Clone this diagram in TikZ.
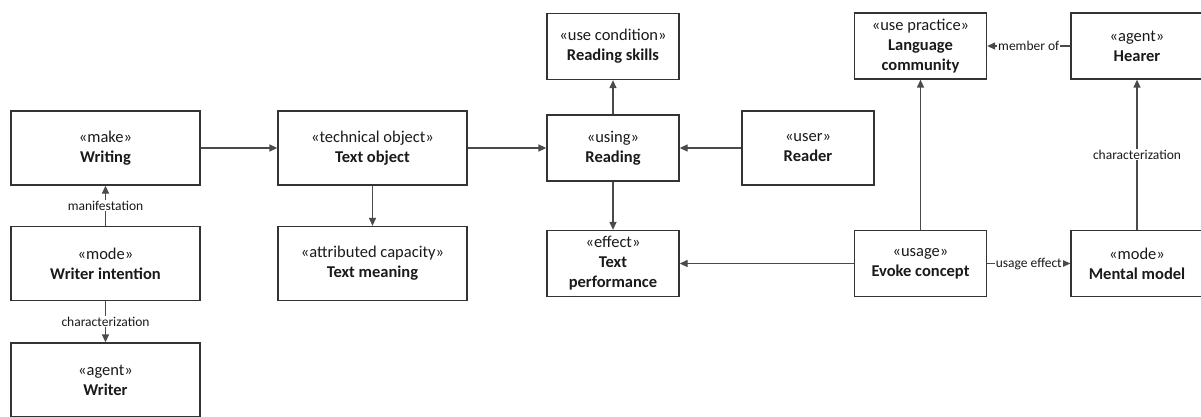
\documentclass[tikz,border=0pt]{standalone}
\usepackage{fontspec}
\setmainfont{Carlito}
\usetikzlibrary{arrows.meta}

\definecolor{linegray}{HTML}{4A4A4A}
\definecolor{boxgray}{HTML}{333333}
\definecolor{textgray}{HTML}{1A1A1A}

\begin{document}
\begin{tikzpicture}[x=1pt, y=-1pt,
    bigbox/.style={draw=boxgray, line width=1.3pt, rectangle, align=center, inner sep=0pt,
        text=textgray, font=\fontsize{16.5}{20}\selectfont, minimum width=189pt, minimum height=74pt},
    smallbox/.style={bigbox, minimum width=132pt, minimum height=66pt},
    conn/.style={draw=linegray, line width=1.3pt, -{Triangle[length=8pt,width=7pt]}},
    lbl/.style={fill=white, inner sep=1pt, text=textgray, font=\fontsize{13.5}{15}\selectfont}]

    \clip (0,0) rectangle (1201,417);

    % Writer side
    \node[bigbox] (writing) at (105.5,148) {«make»\\\textbf{Writing}};
    \node[bigbox] (intention) at (105.5,263.5) {«mode»\\\textbf{Writer intention}};
    \node[bigbox] (writer) at (105.5,380) {«agent»\\\textbf{Writer}};

    % Text object
    \node[bigbox] (textobj) at (372.5,148) {«technical object»\\\textbf{Text object}};
    \node[bigbox] (meaning) at (372.5,263.5) {«attributed capacity»\\\textbf{Text meaning}};

    % Reading
    \node[smallbox] (skills) at (613,46.5) {«use condition»\\\textbf{Reading skills}};
    \node[smallbox] (reading) at (613,148) {«using»\\\textbf{Reading}};
    \node[smallbox] (perf) at (613,263.5) {«effect»\\\textbf{Text}\\\textbf{performance}};
    \node[smallbox, minimum height=74pt] (reader) at (808,148) {«user»\\\textbf{Reader}};

    % Hearer side
    \node[smallbox] (community) at (920.5,46) {«use practice»\\\textbf{Language}\\\textbf{community}};
    \node[smallbox] (evoke) at (920.5,263.5) {«usage»\\\textbf{Evoke concept}};
    \node[smallbox] (hearer) at (1137,46) {«agent»\\\textbf{Hearer}};
    \node[smallbox] (mental) at (1137,263.5) {«mode»\\\textbf{Mental model}};

    % Connectors
    \draw[conn] (intention) -- node[lbl] {manifestation} (writing);
    \draw[conn] (intention) -- node[lbl] {characterization} (writer);
    \draw[conn] (writing) -- (textobj);
    \draw[conn] (textobj) -- (meaning);
    \draw[conn] (textobj) -- (reading);
    \draw[conn] (reader) -- (reading);
    \draw[conn] (reading) -- (skills);
    \draw[conn] (reading) -- (perf);
    \draw[conn] (evoke) -- (perf);
    \draw[conn] (evoke) -- (community);
    \draw[conn] (evoke) -- node[lbl] {usage effect} (mental);
    \draw[conn] (mental) -- node[lbl] {characterization} (hearer);
    \draw[conn] (hearer) -- node[lbl] {member of} (community);

\end{tikzpicture}
\end{document}
